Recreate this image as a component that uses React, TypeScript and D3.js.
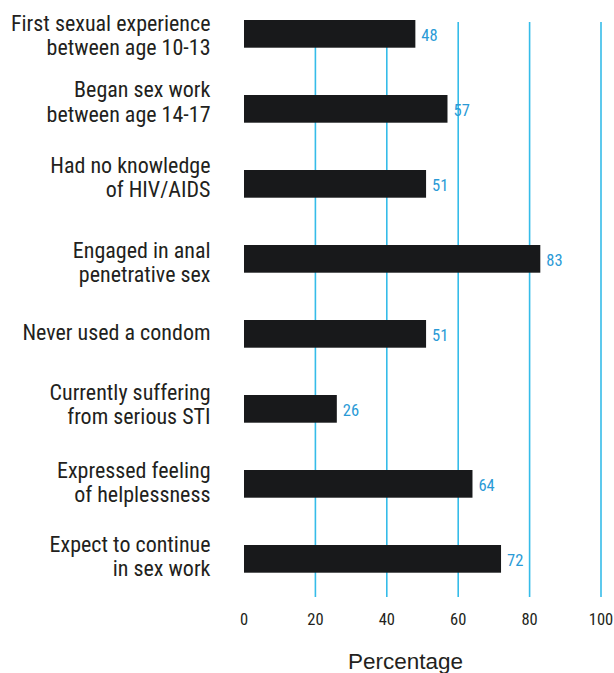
import React from "react";
import * as d3 from "d3";

const categories: string[][] = [
  ["First sexual experience", "between age 10-13"],
  ["Began sex work", "between age 14-17"],
  ["Had no knowledge", "of HIV/AIDS"],
  ["Engaged in anal", "penetrative sex"],
  ["Never used a condom"],
  ["Currently suffering", "from serious STI"],
  ["Expressed feeling", "of helplessness"],
  ["Expect to continue", "in sex work"],
];
const values: number[] = [48, 57, 51, 83, 51, 26, 64, 72];
const tickValues: number[] = [0, 20, 40, 60, 80, 100];
const axisTitle = "Percentage";

// layout nudges for the hand-placed category labels (first-line baseline relative to bar centre)
const labelNudge: number[] = [-3, -11.5, -11, -0.7, 6.3, -9, -5.7, -7.3];

const W = 614;
const H = 673;
const COND = "'Liberation Sans Narrow', 'Arial Narrow', 'Roboto Condensed', 'Liberation Sans', sans-serif";

export default function App() {
  const x = d3.scaleLinear().domain([0, 100]).range([244, 601]);
  const y = d3
    .scaleBand<number>()
    .domain(d3.range(values.length))
    .range([20, 20 + 75 * 8])
    .paddingInner(0)
    .paddingOuter(0);
  const barH = 27.7;
  const gridTop = 22;
  const gridBottom = 597;

  return (
    <svg
      width={W}
      height={H}
      style={{ position: "absolute", left: 0, top: 0, background: "#fff" }}
    >
      {tickValues
        .filter((t) => t > 0)
        .map((t) => (
          <line
            key={"g" + t}
            x1={x(t)}
            x2={x(t)}
            y1={gridTop}
            y2={gridBottom}
            stroke="#35bce9"
            strokeWidth={1.6}
          />
        ))}
      {values.map((v, i) => {
        const top = y(i) as number;
        const cy = top + barH / 2;
        return (
          <g key={"b" + i}>
            <rect x={x(0)} y={top} width={x(v) - x(0)} height={barH} fill="#18191b" />
            <text
              x={x(v) + 6}
              y={cy + 7}
              fontFamily={COND}
              fontSize={16.5}
              fill="#2a9ad6"
            >
              {v}
            </text>
            <text
              textAnchor="end"
              fontFamily={COND}
              fontSize={22}
              fill="#231f20"
            >
              {categories[i].map((line, j) => (
                <tspan key={j} x={210.5} y={cy + labelNudge[i] + j * 24.3}>
                  {line}
                </tspan>
              ))}
            </text>
          </g>
        );
      })}
      {tickValues.map((t) => (
        <text
          key={"t" + t}
          x={x(t)}
          y={625}
          textAnchor="middle"
          fontFamily={COND}
          fontSize={16.5}
          fill="#231f20"
        >
          {t}
        </text>
      ))}
      <text
        x={405.5}
        y={669}
        textAnchor="middle"
        fontFamily="'Liberation Sans', Arial, sans-serif"
        fontSize={22.5}
        fill="#231f20"
      >
        {axisTitle}
      </text>
    </svg>
  );
}
